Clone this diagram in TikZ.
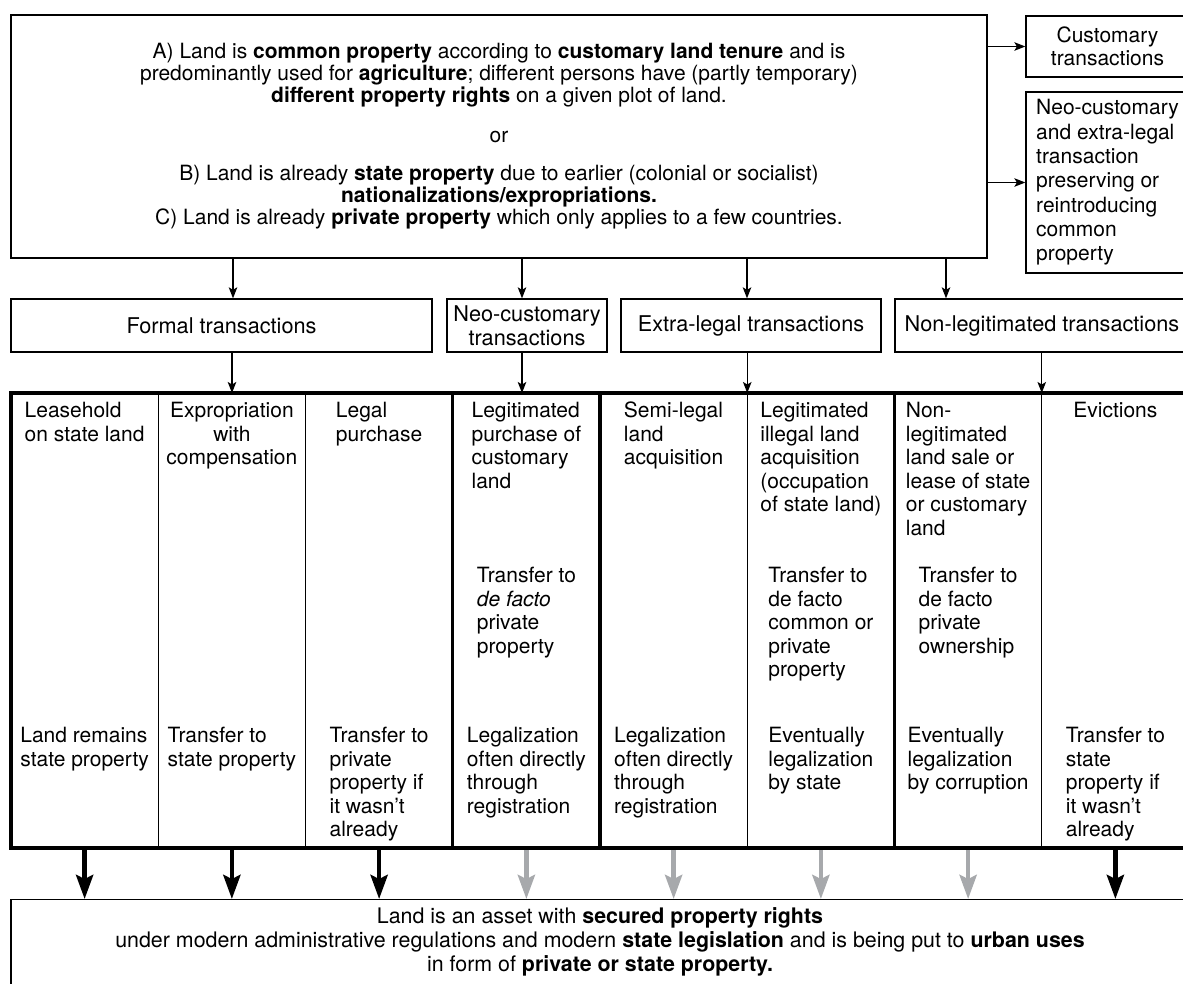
\documentclass[tikz,border=0pt]{standalone}
\usepackage{fontspec}
\setmainfont{TeX Gyre Heros}
\usetikzlibrary{arrows.meta}
\definecolor{arrowgray}{RGB}{167,169,172}

\begin{document}
\begin{tikzpicture}[x=1pt,y=-1pt,
    font=\fontsize{21}{23.5}\selectfont,
    box/.style={draw, line width=1.3pt, inner sep=0pt},
    kind/.style={box, minimum height=53pt, font=\fontsize{21.7}{23.5}\selectfont},
    arr/.style={line width=1.3pt, -{Stealth[length=11pt,width=8.5pt,inset=2.5pt]}},
    bigarr/.style={line width=4.5pt, -{Stealth[length=24pt,width=17pt,inset=4pt]}},
    cell/.style={anchor=north, inner sep=0pt, align=left}]

  \useasboundingbox (0,0) rectangle (1183,983);
  \clip (0,0) rectangle (1183,983);

  % starting situation
  \node[box, minimum width=976pt, minimum height=243pt, align=center,
        font=\fontsize{21}{22}\selectfont] (situation) at (499,136.5)
    {A) Land is \textbf{common property} according to \textbf{customary land tenure} and is\\
     predominantly used for \textbf{agriculture}; different persons have (partly temporary)\\
     \textbf{different property rights} on a given plot of land.\\[18pt]
     or\\[16pt]
     B) Land is already \textbf{state property} due to earlier (colonial or socialist)\\
     \textbf{nationalizations/expropriations.}\\
     C) Land is already \textbf{private property} which only applies to a few countries.};

  \node[box, minimum width=163pt, minimum height=61pt, align=center] (customary) at (1107.5,46.5)
    {Customary\\transactions};
  \node[box, minimum width=163pt, minimum height=181pt, align=left,
        font=\fontsize{21}{24.3}\selectfont] (preserving) at (1107.5,182.5)
    {Neo-customary\\and extra-legal\\transaction\\preserving or\\reintroducing\\common\\property};

  \draw[arr] (situation.east |- customary) -- (customary.west);
  \draw[arr] (situation.east |- preserving) -- (preserving.west);

  % kinds of transactions
  \node[kind, minimum width=421pt] (formal) at (221.5,325.5) {Formal transactions};
  \node[kind, minimum width=160pt, align=center] (neocust) at (527,325.5)
    {Neo-customary\\transactions};
  \node[kind, minimum width=260pt] (extralegal) at (751,325.5) {Extra-legal transactions};
  \node[kind, minimum width=294pt] (nonlegit) at (1042,325.5) {Non-legitimated transactions};

  \foreach \n/\x in {formal/233, neocust/522, extralegal/747, nonlegit/946}
  {
    \draw[arr] (situation.south -| \x,0) -- (\n.north -| \x,0);
  }

  % table
  \coordinate (tabtop) at (11,393);
  \coordinate (tabbot) at (11,848);
  \foreach \n/\x in {formal/232, neocust/522, extralegal/747.25, nonlegit/1041.75}
  {
    \draw[arr] (\n.south -| \x,0) -- (tabtop -| \x,0);
  }
  \foreach \i in {1,2,5,7}
  {
    \draw[line width=1.3pt] ({11+147.25*\i},393) -- ({11+147.25*\i},848);
  }
  \foreach \i in {3,4,6}
  {
    \draw[line width=3.2pt] ({11+147.25*\i},393) -- ({11+147.25*\i},848);
  }
  \draw[line width=3.2pt] (tabtop) rectangle (1189,848);

  % first row
  \node[cell] (r1c1) at (84.6,402) {Leasehold\\on state land};
  \node[cell, align=center] (r1c2) at (231.9,402) {Expropriation\\with\\compensation};
  \node[cell] (r1c3) at (379.1,402) {Legal\\purchase};
  \node[cell] (r1c4) at (526.4,402) {Legitimated\\purchase of\\customary\\land};
  \node[cell] (r1c5) at (673.6,402) {Semi-legal\\land\\acquisition};
  \node[cell] (r1c6) at (820.9,402) {Legitimated\\illegal land\\acquisition\\(occupation\\of state land)};
  \node[cell] (r1c7) at (968.1,402) {Non-\\legitimated\\land sale or\\lease of state\\or customary\\land};
  \node[cell, align=center] (r1c8) at (1115.4,402) {Evictions};

  % second row
  \node[cell] (r2c4) at (526.4,567) {Transfer to\\\textit{de facto}\\private\\property};
  \node[cell] (r2c6) at (820.9,567) {Transfer to\\de facto\\common or\\private\\property};
  \node[cell] (r2c7) at (968.1,567) {Transfer to\\de facto\\private\\ownership};

  % third row
  \node[cell] (r3c1) at (84.6,727) {Land remains\\state property};
  \node[cell] (r3c2) at (231.9,727) {Transfer to\\state property};
  \node[cell] (r3c3) at (379.1,727) {Transfer to\\private\\property if\\it wasn't\\already};
  \node[cell] (r3c4) at (526.4,727) {Legalization\\often directly\\through\\registration};
  \node[cell] (r3c5) at (673.6,727) {Legalization\\often directly\\through\\registration};
  \node[cell] (r3c6) at (820.9,727) {Eventually\\legalization\\by state};
  \node[cell] (r3c7) at (968.1,727) {Eventually\\legalization\\by corruption};
  \node[cell] (r3c8) at (1115.4,727) {Transfer to\\state\\property if\\it wasn't\\already};

  % outcome
  \node[box, minimum width=1178pt, minimum height=110pt, anchor=north] (asset) at (600,899) {};
  \node[anchor=north, align=center, inner sep=0pt, font=\fontsize{21.4}{24}\selectfont] (assettext)
    at (asset.north |- 0,907.5)
    {Land is an asset with \textbf{secured property rights}\\
     under modern administrative regulations and modern \textbf{state legislation} and is being put to \textbf{urban uses}\\
     in form of \textbf{private or state property.}};

  \foreach \i/\c in {1/black, 2/black, 3/black, 4/arrowgray, 5/arrowgray, 6/arrowgray, 7/arrowgray, 8/black}
  {
    \coordinate (b\i) at ({11+147.25*(\i-0.5)},850);
    \draw[bigarr, \c] (b\i) -- (asset.north -| b\i);
  }

\end{tikzpicture}
\end{document}
